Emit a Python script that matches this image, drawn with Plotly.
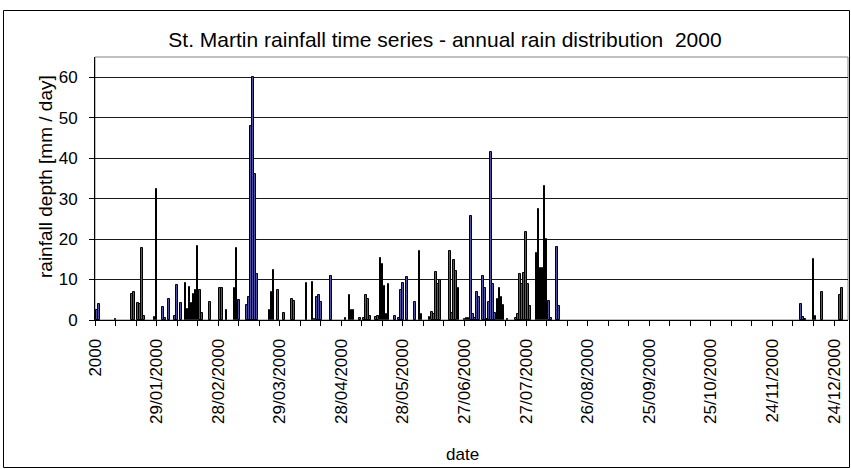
import plotly.graph_objects as go

# Daily rainfall at St. Martin, year 2000.
# day = days counted from the start of the date axis (30/12/1999)
rain_day = [
    1, 2, 10, 18, 19, 21, 22, 23, 24, 29, 30, 33, 34, 36, 39, 40, 42, 44, 45, 46,
    47, 48, 49, 50, 51, 52, 56, 61, 62, 64, 68, 69, 70, 74, 75, 76, 77, 78, 79, 85,
    86, 87, 89, 92, 96, 97, 103, 106, 107, 108, 109, 110, 115, 122, 124, 125, 126, 129, 131, 132,
    133, 134, 137, 138, 139, 140, 141, 142, 143, 146, 148, 149, 150, 152, 156, 158, 159, 163, 164, 165,
    166, 167, 168, 173, 174, 175, 176, 177, 180, 181, 182, 183, 184, 185, 186, 187, 189, 190, 191, 192,
    193, 194, 195, 196, 197, 198, 199, 201, 205, 206, 207, 208, 209, 210, 211, 212, 215, 216, 217, 218,
    219, 220, 221, 222, 225, 226, 344, 345, 346, 350, 351, 354, 363, 364,
]
rain_mm = [
    2.4, 3.9, 0.3, 6.4, 7.0, 4.3, 4.0, 17.8, 1.0, 0.8, 32.5, 3.3, 0.5, 5.1, 1.0, 8.7, 4.2, 9.2, 2.8, 8.2,
    4.2, 6.4, 7.4, 18.4, 7.3, 1.7, 4.4, 7.9, 7.8, 2.4, 7.8, 17.8, 4.9, 3.6, 5.7, 48.0, 60.0, 36.0, 11.3, 2.5,
    6.8, 12.4, 7.5, 1.8, 5.1, 4.6, 9.1, 9.3, 0.3, 5.8, 6.1, 4.4, 10.8, 0.6, 6.3, 2.4, 2.4, 0.4, 0.6, 6.1,
    5.1, 1.0, 0.7, 1.1, 15.3, 13.8, 8.5, 1.4, 8.8, 1.0, 0.4, 7.5, 9.2, 10.6, 4.4, 17.0, 1.6, 0.8, 2.0, 1.4,
    11.8, 9.0, 9.8, 17.0, 1.7, 14.8, 12.2, 8.0, 0.2, 0.4, 0.6, 25.8, 1.4, 0.6, 6.8, 5.6, 10.8, 7.9, 0.3, 4.5,
    41.5, 9.0, 1.7, 5.3, 8.0, 5.8, 3.6, 0.2, 0.6, 1.6, 11.3, 9.0, 11.7, 21.8, 9.0, 3.4, 16.5, 27.5, 12.9, 12.8,
    33.0, 20.0, 4.8, 0.5, 18.0, 3.5, 4.0, 0.7, 0.3, 15.0, 1.0, 6.9, 6.2, 8.0,
]

# Labelled date ticks every 30 days, minor ticks every 10 days
label_day = [0, 30, 60, 90, 120, 150, 180, 210, 240, 270, 300, 330, 360]
label_text = [
    "2000", "29/01/2000", "28/02/2000", "29/03/2000", "28/04/2000", "28/05/2000",
    "27/06/2000", "27/07/2000", "26/08/2000", "25/09/2000", "25/10/2000",
    "24/11/2000", "24/12/2000",
]
y_ticks = [0, 10, 20, 30, 40, 50, 60]

W, H = 851, 469
L, R, T, B = 95, 848, 57, 320  # plot area in pixels
FONT = "Liberation Sans, Arial, sans-serif"


def px_x(x):
    return (x - L) / (R - L)


def px_y(y):
    return (B - y) / (B - T)


fig = go.Figure()
fig.add_trace(go.Bar(
    x=rain_day,
    y=rain_mm,
    width=0.8,
    marker=dict(color="#5050a8", line=dict(color="#000000", width=1)),
    showlegend=False,
))

fig.update_layout(
    width=W,
    height=H,
    margin=dict(l=L, r=W - R, t=T, b=H - B),
    paper_bgcolor="white",
    plot_bgcolor="white",
    bargap=0,
    font=dict(family=FONT, size=16, color="black"),
    title=dict(
        text="St. Martin rainfall time series - annual rain distribution  2000",
        x=445 / W, xanchor="center",
        y=1 - 40 / H, yanchor="middle",
        font=dict(family=FONT, size=21, color="black"),
    ),
    xaxis=dict(
        range=[0, 366.8],
        tickmode="array",
        tickvals=label_day,
        ticktext=label_text,
        tickangle=-90,
        ticks="outside",
        ticklen=5,
        tickcolor="black",
        ticklabelstandoff=6,
        tickfont=dict(family=FONT, size=17),
        minor=dict(tickmode="linear", tick0=0, dtick=10, ticks="outside",
                   ticklen=5, tickcolor="black", showgrid=False),
        showgrid=False,
        showline=True,
        linecolor="black",
        linewidth=1,
        zeroline=False,
    ),
    yaxis=dict(
        range=[0, 65],
        tickmode="array",
        tickvals=y_ticks,
        ticks="outside",
        ticklen=5,
        tickcolor="black",
        ticklabelstandoff=8,
        tickfont=dict(family=FONT, size=17),
        showgrid=True,
        gridcolor="#1a1a1a",
        gridwidth=1,
        showline=True,
        linecolor="black",
        linewidth=1,
        zeroline=False,
    ),
)

# axis titles
fig.add_annotation(
    text="rainfall depth [mm / day]", textangle=-90,
    xref="paper", yref="paper", x=px_x(45), y=px_y(177),
    xanchor="center", yanchor="middle", showarrow=False,
    font=dict(family=FONT, size=19, color="black"),
)
fig.add_annotation(
    text="date",
    xref="paper", yref="paper", x=px_x(462), y=px_y(455),
    xanchor="center", yanchor="middle", showarrow=False,
    font=dict(family=FONT, size=17, color="black"),
)

# plot-area border and chart frame
fig.add_shape(type="rect", xref="paper", yref="paper",
              x0=0, x1=1, y0=0, y1=1, line=dict(color="#808080", width=1),
              layer="below")
fig.add_shape(type="rect", xref="paper", yref="paper",
              x0=px_x(3.5), x1=px_x(849.5), y0=px_y(467.5), y1=px_y(10.5),
              line=dict(color="black", width=1))

fig.write_html("out.html")
